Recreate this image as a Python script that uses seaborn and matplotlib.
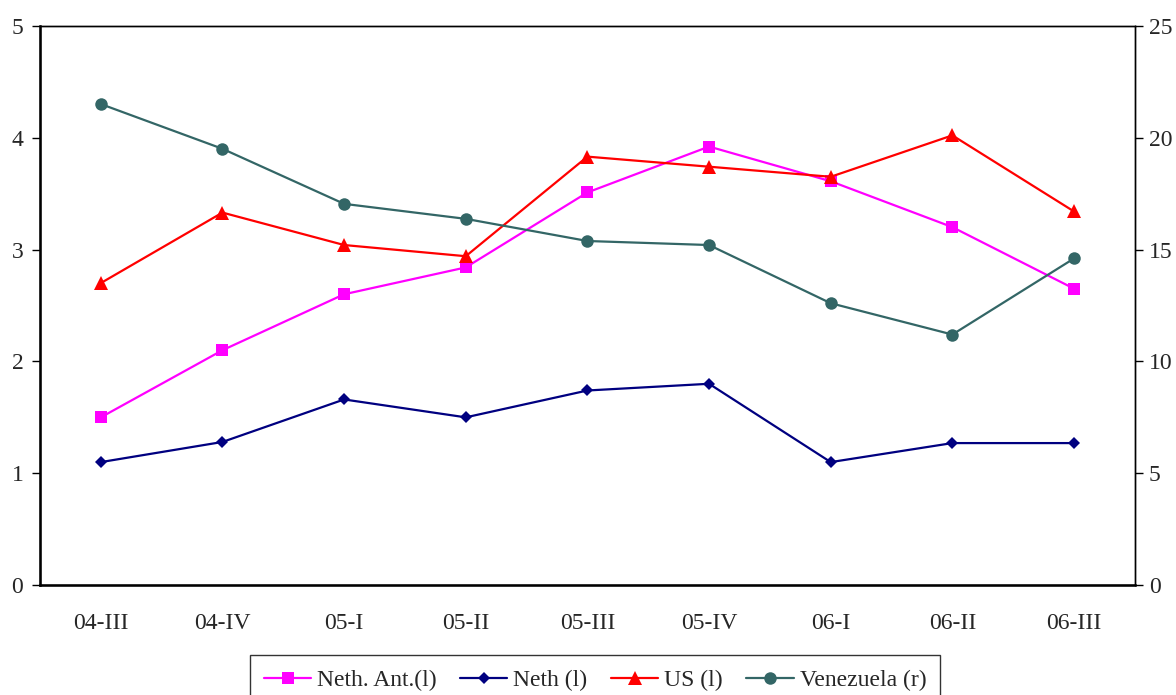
import numpy as np
import matplotlib
matplotlib.use('Agg')
import matplotlib.pyplot as plt
import seaborn as sns

# Data
quarters = ['04-III', '04-IV', '05-I', '05-II', '05-III', '05-IV', '06-I', '06-II', '06-III']
neth_ant = [1.50, 2.10, 2.60, 2.84, 3.51, 3.92, 3.61, 3.20, 2.65]
neth = [1.10, 1.28, 1.66, 1.50, 1.74, 1.80, 1.10, 1.27, 1.27]
us = [2.70, 3.33, 3.04, 2.94, 3.83, 3.74, 3.65, 4.02, 3.34]
venezuela = [21.5, 19.5, 17.04, 16.37, 15.38, 15.2, 12.6, 11.2, 14.6]

sns.set_style('white')
plt.rcParams['font.family'] = ['Liberation Serif', 'DejaVu Serif']

fig = plt.figure(figsize=(11.76, 6.95), dpi=100)
ax = fig.add_axes([0.034, 0.158, 0.931, 0.805])
ax2 = ax.twinx()

x = np.arange(len(quarters))

sns.lineplot(x=x, y=neth_ant, ax=ax, color='#FF00FF', marker='s', markersize=9,
             markeredgewidth=0, linewidth=1.6, label='Neth. Ant.(l)')
sns.lineplot(x=x, y=neth, ax=ax, color='#000080', marker='D', markersize=6.5,
             markeredgewidth=0, linewidth=1.6, label='Neth (l)')
sns.lineplot(x=x, y=us, ax=ax, color='#FF0000', marker='^', markersize=10,
             markeredgewidth=0, linewidth=1.6, label='US (l)')
sns.lineplot(x=x, y=venezuela, ax=ax2, color='#336666', marker='o', markersize=9,
             markeredgewidth=0, linewidth=1.6, label='Venezuela (r)')

ax.set_xlim(-0.5, len(quarters) - 0.5)
ax.set_ylim(0, 5)
ax2.set_ylim(0, 25)
ax.set_yticks(range(0, 6))
ax2.set_yticks(range(0, 26, 5))

# category labels centred, tick marks between categories
ax.set_xticks(x)
ax.set_xticklabels(quarters)
ax.set_xticks(np.arange(-0.5, len(quarters)), minor=True)
ax.tick_params(axis='x', which='major', length=0, pad=20, labelsize=17)
ax.tick_params(axis='x', which='minor', length=5, width=1, direction='out', color='black')
ax.tick_params(axis='y', length=6, width=1, direction='out', color='black', labelsize=17, pad=6, left=True)
ax2.tick_params(axis='y', length=6, width=1, direction='out', color='black', labelsize=17, pad=4, right=True)

for a in (ax, ax2):
    for s in a.spines.values():
        s.set_color('black')
        s.set_linewidth(1.0)
ax.spines['left'].set_linewidth(1.8)
ax.spines['bottom'].set_linewidth(1.8)

ax.set_xlabel('')
ax.set_ylabel('')
ax2.set_ylabel('')

h1, l1 = ax.get_legend_handles_labels()
h2, l2 = ax2.get_legend_handles_labels()
ax.get_legend().remove()
ax2.get_legend().remove()
leg = fig.legend(h1 + h2, l1 + l2, loc='upper center', bbox_to_anchor=(0.506, 0.074),
                 ncol=4, frameon=True, fancybox=False, edgecolor='black', fontsize=17,
                 handlelength=2.0, handletextpad=0.25, columnspacing=1.0,
                 borderpad=0.6)
leg.get_frame().set_linewidth(1.0)

fig.savefig('out.png', dpi=100)
